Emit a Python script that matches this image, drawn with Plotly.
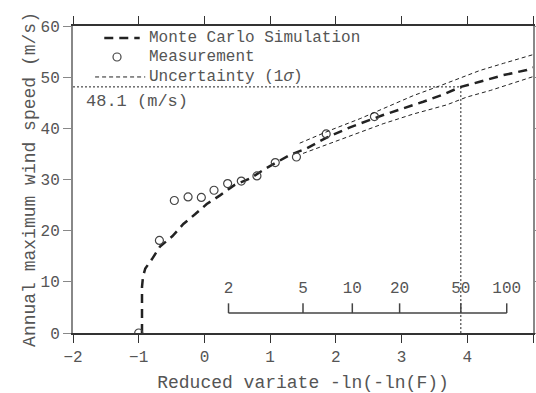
import numpy as np
import plotly.graph_objects as go

# Measurement (reduced variate, wind speed m/s)
meas_x = [-1.0, -0.685, -0.458, -0.249, -0.047, 0.146, 0.353, 0.561, 0.799, 1.078, 1.40, 1.853, 2.587]
meas_y = [0.0, 18.1, 25.9, 26.6, 26.5, 27.9, 29.2, 29.7, 30.7, 33.3, 34.4, 38.9, 42.3]

# Monte Carlo simulation curve
mc_x = [-0.95, -0.95, -0.935, -0.90, -0.80, -0.676, -0.489, -0.321, -0.143, 0.035, 0.237, 0.455,
        0.694, 0.938, 1.30, 1.557, 1.86, 2.216, 2.72, 3.03, 3.33, 3.61, 3.902, 4.19, 4.55, 4.906, 5.0]
mc_y = [0.0, 9.0, 11.0, 12.6, 14.4, 16.9, 18.9, 21.3, 23.2, 25.2, 26.9, 28.9,
        30.2, 32.2, 34.8, 36.1, 38.2, 40.2, 42.6, 43.9, 45.2, 46.5, 48.1, 49.1, 50.4, 51.4, 51.9]

# Uncertainty band (1 sigma)
up_x = [1.45, 1.91, 2.37, 2.70, 3.18, 3.56, 3.90, 4.19, 4.55, 5.0]
up_y = [37.1, 39.6, 41.9, 43.7, 46.4, 48.2, 49.8, 51.3, 52.7, 54.4]
lo_x = [1.50, 2.0, 2.47, 2.72, 3.18, 3.69, 3.99, 4.35, 5.0]
lo_y = [35.1, 37.5, 39.6, 40.9, 42.8, 44.6, 46.1, 47.4, 50.1]

# Design value
design_T = 50
design_v = 48.1

# Return period scale
ret_T = [2, 5, 10, 20, 50, 100]
scale_y = 3.9
tick_top = 5.8
label_y = 8.6

# Legend labels
legend_labels = ["Monte Carlo Simulation", "Measurement", "Uncertainty (1<i>σ</i>)"]


def rv(T):
    return -np.log(-np.log(1 - 1 / T))


FONT = "Liberation Mono, Courier New, monospace"
TXT = "#555555"
MC_LINE = dict(color="#222222", width=2.5, dash="9px,6px")
UN_LINE = dict(color="#222222", width=1, dash="4px,3px")

fig = go.Figure()

fig.add_trace(go.Scatter(x=mc_x, y=mc_y, mode="lines", showlegend=False, line=MC_LINE))
fig.add_trace(go.Scatter(x=meas_x, y=meas_y, mode="markers", showlegend=False,
                         marker=dict(symbol="circle-open", size=8, color="#444444",
                                     line=dict(width=1.2, color="#444444"))))
fig.add_trace(go.Scatter(x=up_x, y=up_y, mode="lines", showlegend=False, line=UN_LINE))
fig.add_trace(go.Scatter(x=lo_x, y=lo_y, mode="lines", showlegend=False, line=UN_LINE))

# design value guide lines
xd = float(rv(design_T))
fig.add_trace(go.Scatter(x=[-2, xd, xd], y=[design_v, design_v, 0], mode="lines", showlegend=False,
                         line=dict(color="#222222", width=1, dash="2px,2px")))

# return period scale
rx = [float(rv(T)) for T in ret_T]
sx, sy = [rx[0], rx[-1]], [scale_y, scale_y]
for v in rx:
    sx += [None, v, v]
    sy += [None, scale_y, tick_top]
fig.add_trace(go.Scatter(x=sx, y=sy, mode="lines", showlegend=False,
                         line=dict(color="#444444", width=1.5)))
fig.add_trace(go.Scatter(x=rx, y=[label_y] * len(rx), mode="text", showlegend=False,
                         text=[str(T) for T in ret_T],
                         textfont=dict(family=FONT, size=16, color=TXT)))

fig.add_annotation(x=-1.83, y=45.2, text=f"{design_v} (m/s)", showarrow=False,
                   xanchor="left", yanchor="middle",
                   font=dict(family=FONT, size=17, color=TXT))

# manual legend (paper coordinates)
leg_y = [0.961, 0.899, 0.834]
for lab, yy in zip(legend_labels, leg_y):
    fig.add_annotation(xref="paper", yref="paper", x=0.161, y=yy, text=lab, showarrow=False,
                       xanchor="left", yanchor="middle",
                       font=dict(family=FONT, size=16, color=TXT))
fig.add_shape(type="line", xref="paper", yref="paper", x0=0.068, x1=0.145,
              y0=leg_y[0], y1=leg_y[0], line=MC_LINE)
fig.add_shape(type="circle", xref="paper", yref="paper", x0=0.0957 - 0.0087, x1=0.0957 + 0.0087,
              y0=leg_y[1] - 0.013, y1=leg_y[1] + 0.013, line=dict(color="#444444", width=1.2))
fig.add_shape(type="line", xref="paper", yref="paper", x0=0.048, x1=0.157,
              y0=leg_y[2], y1=leg_y[2], line=UN_LINE)

fig.update_layout(
    width=536, height=393,
    margin=dict(l=73, r=3, t=26, b=60),
    plot_bgcolor="white", paper_bgcolor="white",
    font=dict(family=FONT, size=16, color=TXT),
    showlegend=False,
    xaxis=dict(range=[-2, 5], tickvals=list(range(-2, 6)), showgrid=False, zeroline=False,
               automargin=False,
               showline=True, linecolor="#333333", linewidth=1.5, mirror="ticks",
               ticks="outside", ticklen=8, tickcolor="#333333",
               tickfont=dict(family=FONT, size=16, color=TXT),
               title=dict(text="Reduced variate -ln(-ln(F))", standoff=9,
                          font=dict(family=FONT, size=18, color=TXT))),
    yaxis=dict(range=[0, 60], tickvals=list(range(0, 61, 10)), showgrid=False, zeroline=False,
               automargin=False,
               showline=True, linecolor="#888888", linewidth=2, mirror="ticks",
               ticks="outside", ticklen=8, tickcolor="#888888",
               tickfont=dict(family=FONT, size=16, color=TXT),
               title=dict(text="Annual maximum wind speed (m/s)", standoff=0,
                          font=dict(family=FONT, size=18, color=TXT))),
)

fig.write_html("out.html")
